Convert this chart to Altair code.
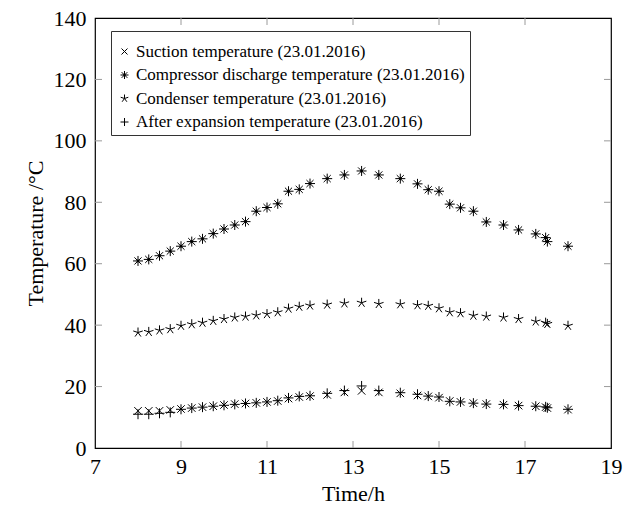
import altair as alt
import pandas as pd

# Measurement times (h)
hours = [8.0, 8.25, 8.5, 8.75, 9.0, 9.25, 9.5, 9.75, 10.0, 10.25, 10.5, 10.75,
         11.0, 11.25, 11.5, 11.75, 12.0, 12.4, 12.8, 13.2, 13.6, 14.1, 14.5,
         14.75, 15.0, 15.25, 15.5, 15.8, 16.1, 16.5, 16.85, 17.25, 17.48,
         17.52, 18.0]

# Temperatures (°C)
suction = [12.1, 12.1, 12.1, 12.4, 12.7, 13.0, 13.3, 13.6, 14.0, 14.3, 14.5,
           14.7, 15.0, 15.3, 16.1, 16.6, 16.9, 17.3, 18.1, 18.6, 18.1, 17.8,
           17.1, 16.8, 16.4, 15.3, 15.0, 14.6, 14.3, 14.1, 13.8, 13.6, 13.3,
           13.0, 12.5]
discharge = [60.9, 61.4, 62.6, 64.1, 65.7, 67.2, 68.1, 69.8, 71.3, 72.6, 73.7,
             77.1, 78.3, 79.5, 83.6, 84.2, 86.1, 87.7, 88.9, 90.2, 88.9, 87.7,
             86.0, 84.1, 83.6, 79.4, 78.2, 77.1, 73.6, 72.6, 71.0, 69.7, 68.5,
             67.2, 65.7]
condenser = [37.6, 37.8, 38.3, 38.7, 39.8, 40.3, 40.8, 41.4, 42.0, 42.5, 42.8,
             43.2, 43.6, 44.2, 45.4, 46.0, 46.4, 46.7, 47.1, 47.3, 46.9, 46.8,
             46.5, 46.3, 45.5, 44.2, 43.9, 43.1, 42.8, 42.5, 42.0, 41.2, 40.8,
             40.4, 39.8]
expansion = [11.0, 11.0, 11.3, 11.6, 12.6, 13.0, 13.3, 13.6, 13.9, 14.2, 14.5,
             14.7, 15.0, 15.4, 16.3, 16.8, 17.0, 17.8, 18.7, 20.2, 18.7, 18.0,
             17.5, 16.9, 16.6, 15.2, 15.0, 14.6, 14.3, 14.2, 13.8, 13.6, 13.4,
             13.1, 12.6]

series_names = [
    "Suction temperature (23.01.2016)",
    "Compressor discharge temperature (23.01.2016)",
    "Condenser temperature (23.01.2016)",
    "After expansion temperature (23.01.2016)",
]

# Marker glyphs as SVG paths in the [-1, 1] box (stroked, not filled)
cross_path = "M-0.75,-0.75L0.75,0.75M-0.75,0.75L0.75,-0.75"
burst_path = ("M-1,0L1,0M0,-1L0,1M-0.71,-0.71L0.71,0.71M-0.71,0.71L0.71,-0.71"
              "M0.22,0A0.22,0.22 0 1,1 -0.22,0A0.22,0.22 0 1,1 0.22,0Z")
star_path = ("M0,0L0,-1M0,0L0.95,-0.31M0,0L0.59,0.81"
             "M0,0L-0.59,0.81M0,0L-0.95,-0.31")
plus_path = "M-1,0L1,0M0,-1L0,1"

x_ticks = [7, 9, 11, 13, 15, 17, 19]
y_ticks = [0, 20, 40, 60, 80, 100, 120, 140]
x_inner = [9, 11, 13, 15, 17]
y_inner = [20, 40, 60, 80, 100, 120]

W, H = 516, 430
FONT = "Liberation Serif"

rows = []
for name, vals in zip(series_names, [suction, discharge, condenser, expansion]):
    for h, v in zip(hours, vals):
        rows.append({"time": h, "temp": v, "series": name})
df = pd.DataFrame(rows)

xscale = alt.Scale(domain=[7, 19], nice=False, zero=False)
yscale = alt.Scale(domain=[0, 140], nice=False)

points = alt.Chart(df).mark_point(
    filled=False, color="black", strokeWidth=1, opacity=1, size=100
).encode(
    x=alt.X("time:Q", scale=xscale,
            axis=alt.Axis(values=x_ticks, title="Time/h", labelFlush=False,
                          ticks=False, domain=False, grid=False,
                          labelPadding=8, titlePadding=6)),
    y=alt.Y("temp:Q", scale=yscale,
            axis=alt.Axis(values=y_ticks, title="Temperature /°C",
                          ticks=False, domain=False, grid=False,
                          labelPadding=9, titlePadding=6)),
    shape=alt.Shape("series:N",
                    scale=alt.Scale(domain=series_names,
                                    range=[cross_path, burst_path, star_path, plus_path]),
                    sort=series_names,
                    legend=alt.Legend(title=" ", titleFontSize=5, titlePadding=2,
                                      orient="none", legendX=16, legendY=13,
                                      symbolStrokeWidth=1, symbolSize=64)),
)

xt = pd.DataFrame({"time": x_inner})
yt = pd.DataFrame({"temp": y_inner})
TICK = "#9a9a9a"
TL = 7

# Inward tick marks on all four sides of the frame
bottom_ticks = alt.Chart(xt).mark_rule(color=TICK, strokeWidth=1).encode(
    x=alt.X("time:Q", scale=xscale), y=alt.value(H), y2=alt.value(H - TL))
top_ticks = alt.Chart(xt).mark_rule(color=TICK, strokeWidth=1).encode(
    x=alt.X("time:Q", scale=xscale), y=alt.value(0), y2=alt.value(TL))
left_ticks = alt.Chart(yt).mark_rule(color=TICK, strokeWidth=1).encode(
    y=alt.Y("temp:Q", scale=yscale), x=alt.value(0), x2=alt.value(TL))
right_ticks = alt.Chart(yt).mark_rule(color=TICK, strokeWidth=1).encode(
    y=alt.Y("temp:Q", scale=yscale), x=alt.value(W), x2=alt.value(W - TL))

chart = alt.layer(
    points, bottom_ticks, top_ticks, left_ticks, right_ticks
).properties(
    width=W, height=H,
    autosize=alt.AutoSizeParams(type="none"),
    padding={"left": 95, "top": 18, "right": 23, "bottom": 61},
).configure(
    background="white",
).configure_view(
    stroke="black", strokeWidth=1.2,
).configure_axis(
    labelFont=FONT, titleFont=FONT, labelFontSize=22, titleFontSize=22,
    labelColor="black", titleColor="black", titleFontWeight="normal",
).configure_legend(
    labelFont=FONT, labelFontSize=17, labelColor="black",
    strokeColor="#333", fillColor="white", padding=5, cornerRadius=0,
    rowPadding=5.5, labelOffset=3, labelLimit=0,
)

chart.save("out.html", embed_options={"renderer": "svg", "actions": False})
